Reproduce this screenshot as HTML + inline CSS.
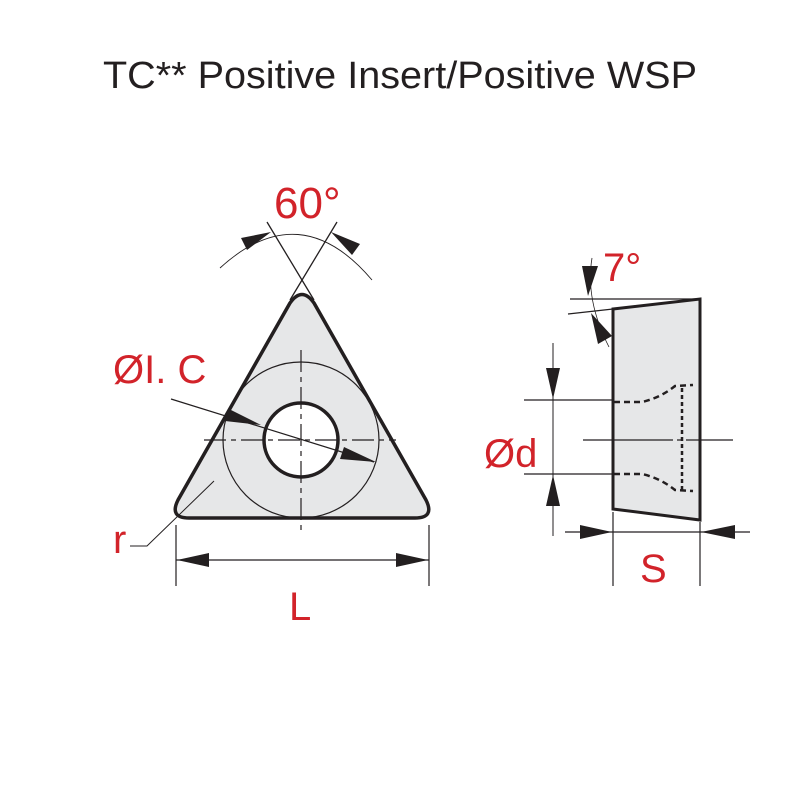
<!DOCTYPE html>
<html><head><meta charset="utf-8"><style>html,body{margin:0;padding:0;background:#fff}svg{display:block}</style></head>
<body>
<svg width="800" height="800" viewBox="0 0 800 800" xmlns="http://www.w3.org/2000/svg" font-family="Liberation Sans, sans-serif">
<text x="103" y="88" font-size="38" fill="#231f20" textLength="594" lengthAdjust="spacingAndGlyphs">TC** Positive Insert/Positive WSP</text>

<!-- triangle -->
<path d="M290,303 Q302,286 314,303 L426,500 Q435,518 415,518 L189,518 Q169,518 178,500 Z" fill="#e6e7e8" stroke="#231f20" stroke-width="3.5"/>
<circle cx="301" cy="440" r="78" fill="none" stroke="#231f20" stroke-width="1.2"/>
<circle cx="301" cy="440" r="37" fill="#fff" stroke="#231f20" stroke-width="3.5"/>
<line x1="204" y1="440" x2="396" y2="440" stroke="#231f20" stroke-width="1.2" stroke-dasharray="22,5,5,5"/>
<line x1="301" y1="350" x2="301" y2="531" stroke="#231f20" stroke-width="1.2" stroke-dasharray="22,5,5,5"/>
<!-- 60 deg -->
<line x1="267" y1="222" x2="314" y2="300" stroke="#231f20" stroke-width="1.3"/>
<line x1="337" y1="222" x2="290" y2="300" stroke="#231f20" stroke-width="1.3"/>
<path d="M220,268 Q300,195 372,280" fill="none" stroke="#231f20" stroke-width="0.9"/>
<polygon points="271,232 241,238 247,250" fill="#231f20"/>
<polygon points="331,232 360,244 352,255" fill="#231f20"/>
<text x="274" y="218" font-size="44" fill="#d2232a">60°</text>
<!-- IC leader -->
<line x1="171" y1="399" x2="374" y2="462" stroke="#231f20" stroke-width="1.2"/>
<polygon points="261,425 229,409 225,421" fill="#231f20"/>
<polygon points="376,462 344,447 340,459" fill="#231f20"/>
<text x="113" y="383" font-size="40" fill="#d2232a">ØI. C</text>
<!-- r -->
<polyline points="214,481 147,546 130,546" fill="none" stroke="#231f20" stroke-width="1"/>
<text x="113" y="553" font-size="40" fill="#d2232a">r</text>
<!-- L -->
<line x1="176" y1="525" x2="176" y2="586" stroke="#231f20" stroke-width="1.2"/>
<line x1="429" y1="525" x2="429" y2="586" stroke="#231f20" stroke-width="1.2"/>
<line x1="176" y1="560" x2="429" y2="560" stroke="#231f20" stroke-width="1.2"/>
<polygon points="177,560 209,553 209,567" fill="#231f20"/>
<polygon points="428,560 396,553 396,567" fill="#231f20"/>
<text x="289" y="620" font-size="40" fill="#d2232a">L</text>

<!-- side view -->
<polygon points="613,309 700,299 700,520 613,509" fill="#e6e7e8" stroke="#231f20" stroke-width="3"/>
<line x1="570" y1="299" x2="700" y2="299" stroke="#231f20" stroke-width="1.2"/>
<line x1="568" y1="314" x2="613" y2="309" stroke="#231f20" stroke-width="1.2"/>
<path d="M592,258 Q585,300 609,347" fill="none" stroke="#231f20" stroke-width="0.8"/>
<polygon points="588,296 582,266 598,266" fill="#231f20"/>
<polygon points="591,313 612,336 598,344" fill="#231f20"/>
<text x="603" y="281" font-size="40" fill="#d2232a">7°</text>
<line x1="524" y1="400" x2="613" y2="400" stroke="#231f20" stroke-width="1.2"/>
<line x1="524" y1="474" x2="613" y2="474" stroke="#231f20" stroke-width="1.2"/>
<line x1="553" y1="343" x2="553" y2="536" stroke="#231f20" stroke-width="1"/>
<polygon points="553,399 546,368 560,368" fill="#231f20"/>
<polygon points="553,475 546,506 560,506" fill="#231f20"/>
<line x1="583" y1="440" x2="733" y2="440" stroke="#231f20" stroke-width="1.2" stroke-dasharray="90,4,5,4,60"/>
<path d="M614,402 L642,402 Q660,398 675,386 L693,385" fill="none" stroke="#231f20" stroke-width="2.5" stroke-dasharray="6,4"/>
<path d="M614,474 L642,474 Q660,478 675,490 L693,491" fill="none" stroke="#231f20" stroke-width="2.5" stroke-dasharray="6,4"/>
<line x1="682" y1="388" x2="682" y2="490" stroke="#231f20" stroke-width="2.5" stroke-dasharray="4,3"/>
<text x="484" y="467" font-size="40" fill="#d2232a">Ød</text>
<line x1="613" y1="512" x2="613" y2="586" stroke="#231f20" stroke-width="1.2"/>
<line x1="700" y1="522" x2="700" y2="586" stroke="#231f20" stroke-width="1.2"/>
<line x1="565" y1="532" x2="750" y2="532" stroke="#231f20" stroke-width="1.2"/>
<polygon points="612,532 580,525 580,539" fill="#231f20"/>
<polygon points="701,532 735,525 735,539" fill="#231f20"/>
<text x="640" y="582" font-size="40" fill="#d2232a">S</text>
</svg>
</body></html>
